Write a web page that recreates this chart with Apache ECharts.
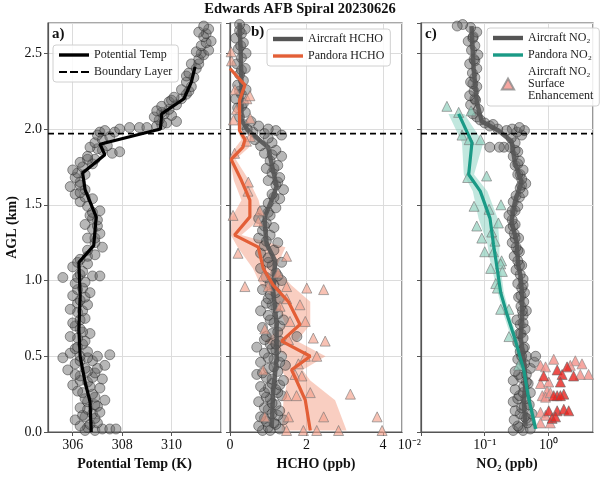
<!DOCTYPE html>
<html>
<head>
<meta charset="utf-8">
<script src="https://cdn.jsdelivr.net/npm/echarts@6/dist/echarts.min.js"></script>
<style>
html, body { margin: 0; padding: 0; background: #fff; }
#chart { width: 600px; height: 478px; }
</style>
</head>
<body>
<div id="chart"></div>
<script>
// ---- data: [value, altitude km] ----
const boundaryLayerKm = 1.97
const altMax = 2.7
const tempRange = [305, 312]
const hchoRange = [0, 4.5]
const no2Range = [0.01, 5]

// a) potential temperature (K)
const tempLine = [[306.75, 0.0], [306.7, 0.2], [306.5, 0.33], [306.3, 0.5], [306.25, 0.68], [306.3, 0.9], [306.25, 1.12], [306.85, 1.23], [306.95, 1.42], [306.5, 1.6], [306.4, 1.71], [307.3, 1.83], [307.1, 1.9], [309.55, 2.0], [309.6, 2.1], [310.5, 2.2], [310.8, 2.31], [310.95, 2.41]]
const tempPts = [[306.5, 0.01], [306.9, 0.01], [307.2, 0.02], [307.5, 0.02], [307.75, 0.02], [306.6, 0.03], [306.3, 0.04], [306.7, 0.05], [307.0, 0.06], [306.1, 0.08], [306.9, 0.09], [306.5, 0.1], [306.4, 0.11], [306.8, 0.12], [307.1, 0.13], [306.6, 0.15], [306.3, 0.16], [307.0, 0.17], [306.9, 0.18], [306.6, 0.2], [307.3, 0.21], [306.5, 0.22], [306.9, 0.23], [306.8, 0.25], [306.4, 0.26], [306.2, 0.27], [307.1, 0.29], [306.7, 0.3], [306.0, 0.31], [306.6, 0.33], [306.3, 0.34], [307.2, 0.35], [306.8, 0.36], [306.3, 0.37], [306.1, 0.38], [306.9, 0.39], [306.6, 0.4], [305.8, 0.41], [306.5, 0.42], [307.0, 0.42], [307.3, 0.44], [306.1, 0.45], [306.8, 0.47], [306.3, 0.47], [305.6, 0.49], [306.6, 0.49], [306.3, 0.5], [307.0, 0.5], [307.5, 0.51], [305.9, 0.52], [306.6, 0.53], [306.1, 0.55], [306.2, 0.56], [306.4, 0.58], [306.5, 0.6], [306.2, 0.62], [305.9, 0.63], [306.7, 0.65], [306.4, 0.66], [306.3, 0.68], [306.1, 0.7], [306.0, 0.72], [306.3, 0.74], [306.5, 0.75], [306.2, 0.79], [306.4, 0.8], [305.9, 0.81], [306.6, 0.84], [306.2, 0.85], [306.3, 0.87], [306.5, 0.89], [306.0, 0.9], [306.7, 0.92], [306.2, 0.94], [306.4, 0.95], [306.1, 0.98], [306.5, 0.99], [305.6, 1.02], [306.2, 1.02], [306.8, 1.03], [307.1, 1.03], [306.3, 1.04], [306.4, 1.06], [306.0, 1.09], [306.6, 1.11], [306.2, 1.12], [306.3, 1.14], [306.6, 1.16], [306.9, 1.17], [306.6, 1.2], [307.2, 1.22], [306.9, 1.25], [306.6, 1.28], [306.9, 1.28], [307.1, 1.31], [306.8, 1.34], [307.0, 1.36], [306.5, 1.37], [307.0, 1.4], [306.8, 1.41], [306.7, 1.43], [306.8, 1.45], [307.1, 1.46], [306.6, 1.49], [306.3, 1.52], [306.8, 1.54], [306.5, 1.55], [306.1, 1.57], [306.3, 1.58], [306.5, 1.6], [305.9, 1.62], [306.3, 1.63], [306.3, 1.65], [306.1, 1.68], [306.5, 1.7], [306.2, 1.71], [306.0, 1.73], [306.4, 1.75], [306.8, 1.77], [306.3, 1.78], [306.9, 1.8], [306.6, 1.8], [306.6, 1.82], [307.6, 1.84], [307.9, 1.85], [307.2, 1.86], [307.0, 1.87], [306.7, 1.88], [307.4, 1.89], [306.9, 1.91], [307.2, 1.93], [307.5, 1.95], [307.0, 1.96], [307.7, 1.98], [307.1, 1.98], [307.3, 1.99], [307.9, 2.0], [308.3, 2.01], [308.7, 2.01], [309.0, 2.01], [309.4, 2.02], [309.6, 2.03], [309.8, 2.04], [310.2, 2.05], [309.5, 2.06], [309.3, 2.08], [310.0, 2.09], [309.7, 2.1], [309.6, 2.11], [309.4, 2.12], [309.9, 2.13], [309.6, 2.15], [310.2, 2.16], [309.9, 2.18], [310.0, 2.19], [310.4, 2.2], [310.1, 2.21], [310.6, 2.23], [310.7, 2.25], [310.4, 2.26], [310.8, 2.28], [310.6, 2.31], [310.9, 2.34], [310.6, 2.35], [310.7, 2.37], [311.0, 2.4], [310.8, 2.43], [311.1, 2.43], [311.1, 2.46], [311.3, 2.49], [311.2, 2.5], [311.0, 2.51], [311.5, 2.52], [311.2, 2.55], [311.4, 2.57], [311.6, 2.58], [311.3, 2.61], [311.4, 2.63], [311.1, 2.64], [311.5, 2.66], [311.3, 2.68]]

// b) HCHO (ppb)
const hchoAcLine = [[1.09, 0.03], [1.13, 0.27], [1.22, 0.49], [1.22, 0.71], [1.13, 0.93], [1.18, 1.13], [0.96, 1.24], [0.91, 1.37], [0.91, 1.42], [1.09, 1.53], [1.22, 1.62], [1.09, 1.77], [1.0, 1.88], [0.47, 1.99], [0.3, 2.06], [0.3, 2.3], [0.28, 2.5], [0.25, 2.7]]
const hchoAcPts = [[0.85, 0.01], [1.05, 0.01], [1.3, 0.02], [1.0, 0.03], [0.75, 0.04], [1.2, 0.05], [1.15, 0.06], [0.95, 0.07], [1.4, 0.08], [0.9, 0.09], [0.8, 0.1], [1.25, 0.11], [1.1, 0.12], [1.3, 0.14], [1.0, 0.15], [0.9, 0.16], [1.2, 0.18], [1.1, 0.19], [0.75, 0.2], [1.05, 0.22], [0.95, 0.23], [1.35, 0.24], [0.9, 0.26], [1.25, 0.26], [1.2, 0.28], [1.0, 0.29], [0.8, 0.3], [1.3, 0.31], [1.1, 0.32], [1.4, 0.34], [1.1, 0.35], [0.95, 0.36], [0.7, 0.38], [0.85, 0.39], [1.25, 0.4], [1.0, 0.42], [1.15, 0.43], [1.45, 0.44], [0.8, 0.46], [1.3, 0.46], [1.15, 0.48], [1.0, 0.49], [1.35, 0.5], [0.9, 0.52], [1.2, 0.54], [1.1, 0.55], [0.7, 0.56], [1.05, 0.58], [1.2, 0.58], [1.3, 0.6], [0.9, 0.61], [1.75, 0.63], [0.95, 0.63], [1.1, 0.65], [1.25, 0.66], [0.85, 0.69], [1.3, 0.7], [1.15, 0.72], [1.4, 0.74], [1.05, 0.74], [1.0, 0.77], [1.25, 0.78], [0.8, 0.8], [1.2, 0.82], [1.1, 0.84], [0.95, 0.85], [1.3, 0.88], [1.0, 0.88], [1.05, 0.91], [1.2, 0.92], [0.85, 0.94], [1.15, 0.97], [1.05, 0.98], [1.35, 1.0], [0.95, 1.02], [1.25, 1.03], [1.2, 1.05], [0.8, 1.08], [1.1, 1.1], [1.35, 1.12], [1.0, 1.12], [1.0, 1.15], [0.8, 1.18], [1.15, 1.2], [0.9, 1.23], [1.25, 1.25], [0.95, 1.26], [0.75, 1.28], [1.05, 1.3], [0.85, 1.33], [1.15, 1.35], [0.9, 1.36], [0.95, 1.38], [0.75, 1.41], [1.05, 1.43], [1.0, 1.45], [0.85, 1.46], [1.2, 1.48], [1.0, 1.51], [1.3, 1.54], [1.15, 1.55], [1.1, 1.57], [1.4, 1.6], [1.2, 1.63], [1.25, 1.65], [1.0, 1.66], [1.3, 1.68], [1.1, 1.71], [1.15, 1.74], [0.95, 1.74], [1.25, 1.76], [1.05, 1.79], [1.35, 1.82], [1.1, 1.83], [0.9, 1.84], [1.2, 1.86], [0.8, 1.89], [1.1, 1.91], [0.65, 1.93], [1.0, 1.94], [1.35, 1.96], [0.9, 1.97], [1.2, 1.99], [0.6, 1.98], [1.0, 2.0], [0.45, 2.0], [0.75, 2.02], [0.35, 2.03], [0.55, 2.05], [0.25, 2.08], [0.4, 2.11], [0.2, 2.14], [0.3, 2.15], [0.35, 2.17], [0.15, 2.2], [0.3, 2.23], [0.25, 2.25], [0.42, 2.26], [0.2, 2.29], [0.35, 2.32], [0.25, 2.36], [0.3, 2.39], [0.4, 2.4], [0.18, 2.43], [0.3, 2.47], [0.42, 2.5], [0.22, 2.53], [0.28, 2.55], [0.35, 2.57], [0.15, 2.6], [0.3, 2.63], [0.25, 2.65], [0.4, 2.66], [0.25, 2.69]]
const hchoPanLine = [[2.1, 0.01], [1.97, 0.21], [1.74, 0.34], [1.61, 0.41], [2.1, 0.5], [1.35, 0.6], [1.83, 0.71], [1.53, 0.86], [1.13, 0.97], [0.87, 1.08], [0.74, 1.22], [0.12, 1.3], [0.52, 1.42], [0.52, 1.53], [0.3, 1.66], [0.03, 1.8], [0.34, 1.88], [0.39, 1.93], [0.25, 1.99], [0.25, 2.19], [0.39, 2.29], [0.0, 2.4]]
// [low, high, altitude]
const hchoPanBand = [[1.35, 3.05, 0.01], [1.4, 2.75, 0.21], [1.5, 2.1, 0.34], [1.35, 1.9, 0.41], [1.5, 2.5, 0.5], [0.9, 1.75, 0.6], [1.45, 2.1, 0.71], [1.2, 2.1, 0.86], [0.8, 1.6, 0.97], [0.6, 1.2, 1.08], [0.2, 1.45, 1.22], [0.02, 0.3, 1.3], [0.05, 0.85, 1.42], [0.3, 0.75, 1.53], [0.1, 0.5, 1.66], [0.0, 0.15, 1.8], [0.15, 0.5, 1.88], [0.3, 0.5, 1.93], [0.2, 0.3, 1.99], [0.2, 0.3, 2.19], [0.35, 0.43, 2.29], [0.0, 0.02, 2.4]]
const hchoPanPts = [[0.04, 2.45], [0.03, 2.51], [0.13, 2.26], [0.44, 2.2], [0.52, 2.22], [0.17, 2.13], [0.09, 2.06], [0.53, 2.07], [0.53, 1.95], [0.43, 1.92], [0.12, 1.84], [0.48, 1.65], [0.47, 1.59], [0.08, 1.43], [0.78, 1.46], [0.74, 1.39], [0.21, 1.18], [1.48, 1.16], [1.26, 1.05], [0.87, 1.03], [0.39, 0.96], [1.0, 0.96], [1.48, 0.96], [2.01, 0.95], [2.45, 0.94], [1.48, 0.88], [1.83, 0.84], [1.31, 0.83], [1.57, 0.73], [1.97, 0.73], [0.91, 0.68], [2.18, 0.62], [2.49, 0.6], [1.53, 0.61], [2.27, 0.5], [1.97, 0.5], [1.79, 0.45], [0.87, 0.41], [1.7, 0.38], [1.88, 0.37], [2.1, 0.26], [3.15, 0.25], [1.74, 0.24], [1.48, 0.24], [0.91, 0.1], [1.53, 0.1], [2.45, 0.1], [3.85, 0.1], [1.48, 0.01], [1.92, 0.01], [2.27, 0.01], [2.84, 0.01], [3.98, 0.01]]

// c) NO2 (ppb)
const no2AcLine = [[0.437, 0.04], [0.41, 0.2], [0.437, 0.33], [0.41, 0.48], [0.365, 0.63], [0.388, 0.77], [0.388, 0.9], [0.365, 1.03], [0.336, 1.1], [0.316, 1.26], [0.263, 1.39], [0.298, 1.52], [0.378, 1.65], [0.298, 1.78], [0.263, 1.92], [0.164, 1.99], [0.09, 2.05], [0.075, 2.18], [0.067, 2.4], [0.062, 2.68]]
const no2AcPts = [[0.28, 0.01], [0.4, 0.01], [0.52, 0.02], [0.35, 0.03], [0.33, 0.04], [0.47, 0.06], [0.29, 0.08], [0.45, 0.09], [0.42, 0.1], [0.36, 0.12], [0.55, 0.12], [0.3, 0.14], [0.38, 0.16], [0.42, 0.17], [0.5, 0.18], [0.28, 0.2], [0.44, 0.22], [0.33, 0.22], [0.35, 0.24], [0.52, 0.26], [0.4, 0.26], [0.3, 0.28], [0.41, 0.3], [0.48, 0.32], [0.45, 0.33], [0.28, 0.34], [0.37, 0.36], [0.45, 0.38], [0.34, 0.38], [0.3, 0.4], [0.52, 0.42], [0.38, 0.44], [0.42, 0.45], [0.6, 0.46], [0.33, 0.48], [0.45, 0.5], [0.38, 0.5], [0.63, 0.5], [0.36, 0.53], [0.42, 0.56], [0.4, 0.55], [0.33, 0.59], [0.4, 0.62], [0.35, 0.65], [0.37, 0.65], [0.43, 0.68], [0.36, 0.71], [0.4, 0.72], [0.32, 0.74], [0.4, 0.77], [0.45, 0.8], [0.39, 0.8], [0.37, 0.83], [0.41, 0.86], [0.34, 0.89], [0.37, 0.9], [0.42, 0.92], [0.38, 0.95], [0.4, 0.97], [0.33, 0.98], [0.4, 1.01], [0.36, 1.04], [0.31, 1.07], [0.38, 1.1], [0.35, 1.1], [0.33, 1.13], [0.29, 1.16], [0.35, 1.19], [0.33, 1.2], [0.31, 1.22], [0.27, 1.25], [0.34, 1.28], [0.3, 1.28], [0.29, 1.31], [0.25, 1.34], [0.28, 1.36], [0.3, 1.37], [0.27, 1.4], [0.24, 1.43], [0.3, 1.46], [0.27, 1.46], [0.33, 1.49], [0.28, 1.52], [0.35, 1.55], [0.31, 1.56], [0.4, 1.58], [0.36, 1.61], [0.38, 1.63], [0.44, 1.64], [0.38, 1.67], [0.36, 1.7], [0.33, 1.7], [0.4, 1.73], [0.3, 1.76], [0.33, 1.77], [0.35, 1.79], [0.28, 1.82], [0.33, 1.85], [0.3, 1.86], [0.25, 1.88], [0.2, 1.88], [0.17, 1.88], [0.12, 1.88], [0.3, 1.91], [0.26, 1.94], [0.38, 1.96], [0.32, 1.98], [0.42, 1.99], [0.27, 2.0], [0.35, 2.01], [0.22, 1.99], [0.16, 2.0], [0.12, 2.02], [0.1, 2.04], [0.135, 2.03], [0.085, 2.06], [0.075, 2.08], [0.065, 2.1], [0.08, 2.13], [0.06, 2.16], [0.072, 2.19], [0.07, 2.2], [0.058, 2.22], [0.068, 2.25], [0.075, 2.28], [0.065, 2.3], [0.06, 2.31], [0.07, 2.34], [0.064, 2.37], [0.075, 2.4], [0.058, 2.43], [0.07, 2.45], [0.068, 2.46], [0.078, 2.49], [0.062, 2.52], [0.07, 2.55], [0.055, 2.58], [0.065, 2.6], [0.066, 2.61], [0.075, 2.64], [0.06, 2.67], [0.045, 2.69], [0.037, 2.68]]
const no2PanLine = [[0.63, 0.02], [0.49, 0.22], [0.41, 0.41], [0.305, 0.6], [0.226, 0.77], [0.178, 0.92], [0.149, 1.14], [0.137, 1.24], [0.121, 1.41], [0.085, 1.59], [0.056, 1.7], [0.063, 1.91], [0.039, 2.1]]
const no2PanBand = [[0.58, 0.68, 0.02], [0.45, 0.53, 0.22], [0.37, 0.46, 0.41], [0.27, 0.34, 0.6], [0.2, 0.25, 0.77], [0.16, 0.2, 0.92], [0.12, 0.17, 1.14], [0.11, 0.17, 1.24], [0.08, 0.16, 1.41], [0.065, 0.11, 1.59], [0.047, 0.068, 1.7], [0.044, 0.095, 1.91], [0.027, 0.048, 2.1]]
const no2PanPts = [[0.0255, 2.15], [0.039, 2.11], [0.061, 2.12], [0.044, 1.96], [0.057, 1.93], [0.086, 1.93], [0.054, 1.68], [0.107, 1.69], [0.068, 1.49], [0.18, 1.5], [0.117, 1.47], [0.075, 1.36], [0.164, 1.38], [0.129, 1.32], [0.09, 1.28], [0.145, 1.26], [0.1, 1.19], [0.137, 1.19], [0.184, 1.13], [0.178, 1.11], [0.189, 1.06], [0.124, 1.08], [0.149, 0.98], [0.158, 0.95], [0.178, 0.81], [0.24, 0.81], [0.24, 0.63], [0.34, 0.44]]
const no2SurfLight = [[1.21, 0.48], [2.64, 0.47], [3.36, 0.45], [0.75, 0.44], [0.9, 0.43], [2.2, 0.44], [4.26, 0.38], [3.16, 0.38], [0.75, 0.32], [1.01, 0.33], [0.95, 0.27], [0.8, 0.24], [0.9, 0.23], [1.07, 0.26], [0.75, 0.13], [0.9, 0.11], [0.75, 0.06], [1.07, 0.06]]
const no2SurfDark = [[1.37, 0.41], [1.96, 0.43], [2.48, 0.37], [1.64, 0.38], [0.84, 0.37], [1.54, 0.33], [1.37, 0.24], [1.74, 0.25], [1.21, 0.24], [1.54, 0.24], [1.01, 0.14], [1.37, 0.14], [1.74, 0.15], [2.08, 0.14], [1.14, 0.09], [1.29, 0.1]]

// ---- styling ----
const FONT = 'Liberation Serif'
const SUP = { '-': '\u207B', '0': '\u2070', '1': '\u00B9', '2': '\u00B2', '3': '\u00B3' }
const acCircle = { color: 'rgba(100,100,100,0.58)', borderColor: 'rgba(30,30,30,0.7)', borderWidth: 0.8 }
const ICON_LINE = 'path://M0,0h30v3.4h-30z'
const ICON_THICK = 'path://M0,0h30v4.4h-30z'
const ICON_DASH = 'path://M0,0h8v2h-8z M11,0h8v2h-8z M22,0h8v2h-8z'
const ICON_TRI = 'path://M5,0L10,9L0,9Z'

function bandSeries(name, band, xi, color) {
  return {
    name: name,
    type: 'custom',
    xAxisIndex: xi,
    yAxisIndex: xi,
    silent: true,
    clip: true,
    data: band,
    encode: { x: [0, 1], y: 2 },
    renderItem: function (params, api) {
      if (params.dataIndex !== 0) return null
      const hi = band.map((r) => api.coord([r[1], r[2]]))
      const lo = band.map((r) => api.coord([r[0], r[2]])).reverse()
      return {
        type: 'polygon',
        shape: { points: hi.concat(lo) },
        style: { fill: color, opacity: 0.42 }
      }
    }
  }
}

function blSeries(xi, range) {
  return {
    name: 'Boundary Layer',
    type: 'line',
    xAxisIndex: xi,
    yAxisIndex: xi,
    symbol: 'none',
    silent: true,
    data: [[range[0], boundaryLayerKm], [range[1], boundaryLayerKm]],
    lineStyle: { color: '#000', width: 1.6, type: [6, 4] },
    itemStyle: { color: '#000' },
    z: 5
  }
}

function xAxisBase(idx, name) {
  return {
    gridIndex: idx,
    name: name,
    nameLocation: 'middle',
    nameGap: 19,
    nameTextStyle: { fontFamily: FONT, fontWeight: 'bold', fontSize: 14, color: '#111' },
    axisLine: { show: true, onZero: false, lineStyle: { color: '#555', width: 1.2 } },
    axisTick: { show: true, length: 4, lineStyle: { color: '#555' } },
    axisLabel: { fontFamily: FONT, fontSize: 14, color: '#111', margin: 6, showMinLabel: true, showMaxLabel: false },
    splitLine: { show: true, lineStyle: { color: '#dcdcdc', width: 1 } }
  }
}

const yAxes = [0, 1, 2].map((i) => ({
  gridIndex: i,
  type: 'value',
  min: 0,
  max: altMax,
  interval: 0.5,
  name: i === 0 ? 'AGL (km)' : '',
  nameLocation: 'middle',
  nameGap: 29,
  nameTextStyle: { fontFamily: FONT, fontWeight: 'bold', fontSize: 14, color: '#111' },
  axisLine: { show: true, lineStyle: { color: '#555', width: 1.2 } },
  axisTick: { show: true, length: 4, lineStyle: { color: '#555' } },
  axisLabel: {
    show: i === 0,
    fontFamily: FONT, fontSize: 14, color: '#111', margin: 6,
    showMaxLabel: false,
    formatter: (v) => v.toFixed(1)
  },
  splitLine: { show: true, lineStyle: { color: '#dcdcdc', width: 1 } }
}))

const xA = Object.assign(xAxisBase(0, 'Potential Temp (K)'), { type: 'value', min: tempRange[0], max: tempRange[1], splitNumber: 3 })
xA.axisLabel.showMinLabel = false
const xB = Object.assign(xAxisBase(1, 'HCHO (ppb)'), { type: 'value', min: hchoRange[0], max: hchoRange[1], interval: 2 })
const xC = Object.assign(xAxisBase(2, 'NO\u2082 (ppb)'), { type: 'log', logBase: 10, min: no2Range[0], max: no2Range[1] })
xC.axisLabel.alignMinLabel = 'right'
xC.axisLabel.formatter = function (v) {
  const e = Math.round(Math.log10(v))
  return '10' + String(e).split('').map((c) => SUP[c] || c).join('')
}

const legendText = { fontFamily: FONT, fontSize: 12, color: '#222' }
const legendBox = {
  orient: 'vertical',
  backgroundColor: 'rgba(255,255,255,0.85)',
  borderColor: '#d0d0d0',
  borderWidth: 1,
  borderRadius: 3,
  padding: [4, 6],
  itemGap: 5,
  itemWidth: 30,
  itemHeight: 12,
  textStyle: legendText,
  selectedMode: false
}

const option = {
  animation: false,
  backgroundColor: '#fff',
  title: [
    { text: 'Edwards AFB Spiral 20230626', left: 'center', top: 2, padding: 0, textStyle: { fontFamily: FONT, fontWeight: 'bold', fontSize: 14.5, color: '#111' } },
    { text: 'a)', left: 52, top: 27, padding: 0, textStyle: { fontFamily: FONT, fontWeight: 'bold', fontSize: 15, color: '#111' } },
    { text: 'b)', left: 251, top: 25, padding: 0, textStyle: { fontFamily: FONT, fontWeight: 'bold', fontSize: 15, color: '#111' } },
    { text: 'c)', left: 425, top: 27, padding: 0, textStyle: { fontFamily: FONT, fontWeight: 'bold', fontSize: 15, color: '#111' } }
  ],
  legend: [
    Object.assign({}, legendBox, { left: 53, top: 45, data: [{ name: 'Potential Temp', icon: ICON_LINE }, { name: 'Boundary Layer', icon: ICON_DASH }] }),
    Object.assign({}, legendBox, { left: 267, top: 29, data: [{ name: 'Aircraft HCHO', icon: ICON_THICK }, { name: 'Pandora HCHO', icon: ICON_LINE }] }),
    Object.assign({}, legendBox, { left: 487, top: 28, itemHeight: 11, data: [{ name: 'Aircraft NO\u2082', icon: ICON_THICK }, { name: 'Pandora NO\u2082', icon: ICON_LINE }, { name: 'Aircraft NO\u2082\nSurface\nEnhancement', icon: ICON_TRI }] })
  ],
  grid: [
    { left: 48, width: 173, top: 23, bottom: 46, show: true, borderColor: '#555', borderWidth: 1.2 },
    { left: 230, width: 172, top: 23, bottom: 46, show: true, borderColor: '#555', borderWidth: 1.2 },
    { left: 421, width: 172, top: 23, bottom: 46, show: true, borderColor: '#555', borderWidth: 1.2 }
  ],
  xAxis: [xA, xB, xC],
  yAxis: yAxes,
  series: [
    // panel a
    { name: 'tempPts', type: 'scatter', xAxisIndex: 0, yAxisIndex: 0, symbolSize: 10, itemStyle: acCircle, data: tempPts, silent: true },
    { name: 'Potential Temp', type: 'line', xAxisIndex: 0, yAxisIndex: 0, symbol: 'none', data: tempLine, lineStyle: { color: '#000', width: 3.2 }, itemStyle: { color: '#000' }, z: 4 },
    blSeries(0, tempRange),
    // panel b
    bandSeries('hchoBand', hchoPanBand, 1, '#f08a6c'),
    { name: 'hchoAcPts', type: 'scatter', xAxisIndex: 1, yAxisIndex: 1, symbolSize: 10, itemStyle: acCircle, data: hchoAcPts, silent: true },
    { name: 'Aircraft HCHO', type: 'line', xAxisIndex: 1, yAxisIndex: 1, symbol: 'none', data: hchoAcLine, lineStyle: { color: '#555', width: 4.5, opacity: 0.9 }, itemStyle: { color: '#555' }, z: 3 },
    { name: 'hchoPanPts', type: 'scatter', xAxisIndex: 1, yAxisIndex: 1, symbol: 'triangle', symbolSize: 10, itemStyle: { color: 'rgba(244,160,138,0.8)', borderColor: '#777', borderWidth: 0.8 }, data: hchoPanPts, silent: true, z: 3 },
    { name: 'Pandora HCHO', type: 'line', xAxisIndex: 1, yAxisIndex: 1, symbol: 'none', data: hchoPanLine, lineStyle: { color: '#e35f37', width: 3.2 }, itemStyle: { color: '#e35f37' }, z: 4 },
    blSeries(1, hchoRange),
    // panel c
    bandSeries('no2Band', no2PanBand, 2, '#6cc5b0'),
    { name: 'no2AcPts', type: 'scatter', xAxisIndex: 2, yAxisIndex: 2, symbolSize: 10, itemStyle: acCircle, data: no2AcPts, silent: true },
    { name: 'Aircraft NO\u2082', type: 'line', xAxisIndex: 2, yAxisIndex: 2, symbol: 'none', data: no2AcLine, lineStyle: { color: '#555', width: 4.5, opacity: 0.9 }, itemStyle: { color: '#555' }, z: 3 },
    { name: 'no2PanPts', type: 'scatter', xAxisIndex: 2, yAxisIndex: 2, symbol: 'triangle', symbolSize: 10, itemStyle: { color: 'rgba(140,206,188,0.85)', borderColor: '#777', borderWidth: 0.8 }, data: no2PanPts, silent: true, z: 3 },
    { name: 'Aircraft NO\u2082\nSurface\nEnhancement', type: 'scatter', xAxisIndex: 2, yAxisIndex: 2, symbol: 'triangle', symbolSize: 10, itemStyle: { color: '#f4918a', borderColor: '#888', borderWidth: 0.8 }, data: no2SurfLight, z: 3 },
    { name: 'no2SurfDark', type: 'scatter', xAxisIndex: 2, yAxisIndex: 2, symbol: 'triangle', symbolSize: 10, itemStyle: { color: '#e8231e', borderColor: '#666', borderWidth: 0.8 }, data: no2SurfDark, silent: true, z: 3 },
    { name: 'Pandora NO\u2082', type: 'line', xAxisIndex: 2, yAxisIndex: 2, symbol: 'none', data: no2PanLine, lineStyle: { color: '#1a9a86', width: 3.2 }, itemStyle: { color: '#1a9a86' }, z: 4 },
    blSeries(2, no2Range)
  ]
}

const myChart = echarts.init(document.getElementById('chart'), null, { renderer: 'canvas' })
myChart.setOption(option)
</script>
</body>
</html>
